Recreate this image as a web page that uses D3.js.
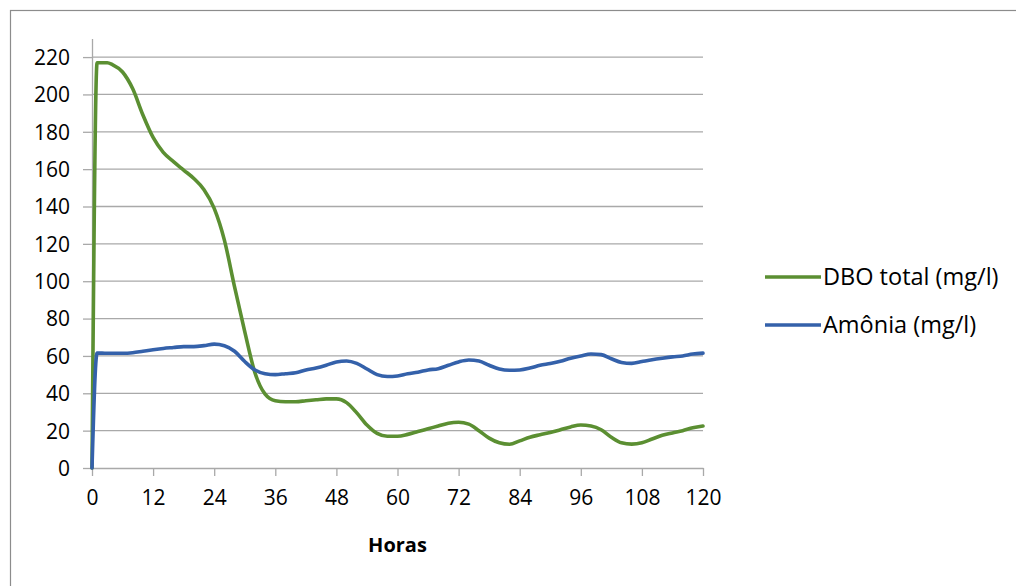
<!DOCTYPE html>
<html>
<head>
<meta charset="utf-8">
<script src="https://cdn.jsdelivr.net/npm/d3@7"></script>
<style>
  body { margin: 0; background: #fff; }
  svg { display: block; }
  text { font-family: "Open Sans", "Noto Sans", sans-serif; }
</style>
</head>
<body>
<svg id="chart" width="1016" height="586"></svg>
<script>
// Sampling times (hours)
const hours = [0, 1, 2, 3, 4, 6, 8, 10, 12, 14, 16, 18, 20, 22, 24, 26, 28, 30, 32, 34, 36, 38, 40,
  42, 44, 46, 48, 50, 52, 54, 56, 58, 60, 62, 64, 66, 68, 70, 72, 74, 76, 78, 80, 82, 84, 86, 88,
  90, 92, 94, 96, 98, 100, 102, 104, 106, 108, 110, 112, 114, 116, 118, 120];

// DBO total (mg/l)
const dbo = [0, 217, 217, 217, 216, 212, 203, 189, 177, 169, 164, 159.5, 155, 149, 139, 122, 97, 73,
  51, 39.5, 36, 35.5, 35.5, 36, 36.5, 37, 37, 35, 29.5, 23, 18.5, 17, 17, 18, 19.5, 21, 22.5, 24,
  24.5, 23.5, 20, 16, 13.5, 12.7, 14.5, 16.5, 17.8, 19, 20.5, 22, 23, 22.5, 20.5, 16.5, 13.5, 12.8,
  13.5, 15.5, 17.5, 18.8, 20, 21.5, 22.5];

// Amônia (mg/l)
const amonia = [0, 61.5, 61.5, 61.4, 61.4, 61.4, 61.7, 62.5, 63.3, 64, 64.5, 65, 65, 65.5, 66.3, 65.5,
  62.5, 57, 52.5, 50.5, 50, 50.5, 51, 52.5, 53.5, 55, 56.8, 57.3, 56, 53, 50, 49, 49.3, 50.5, 51.3,
  52.5, 53.2, 55, 56.8, 57.8, 57.3, 55, 53, 52.3, 52.5, 53.5, 55, 56, 57.2, 58.8, 60, 61, 60.7, 58.5,
  56.5, 56, 57, 58, 58.8, 59.5, 60, 61, 61.5];

const xTicks = [0, 12, 24, 36, 48, 60, 72, 84, 96, 108, 120];
const yTicks = [0, 20, 40, 60, 80, 100, 120, 140, 160, 180, 200, 220];

const seriesNames = ["DBO total (mg/l)", "Amônia (mg/l)"];
const seriesColors = ["#5b8f32", "#3461aa"];
const xTitle = "Horas";

const svg = d3.select("#chart");

// Outer chart frame
svg.append("rect")
  .attr("x", 10.5).attr("y", 10.5)
  .attr("width", 1020).attr("height", 600)
  .attr("fill", "none").attr("stroke", "#8c8c8c").attr("stroke-width", 1.2);

const x = d3.scaleLinear().domain([0, 120]).range([92, 703]);
const y = d3.scaleLinear().domain([0, 230]).range([468, 38.4]);

// Horizontal gridlines
svg.append("g")
  .selectAll("line")
  .data(yTicks.filter(d => d > 0))
  .join("line")
  .attr("x1", x(0)).attr("x2", x(120))
  .attr("y1", d => y(d)).attr("y2", d => y(d))
  .attr("stroke", "#a9a9a9").attr("stroke-width", 1.3);

// Y axis
const yAxis = svg.append("g")
  .attr("transform", `translate(${x(0)},0)`)
  .call(d3.axisLeft(y).tickValues(yTicks).tickSizeInner(9).tickSizeOuter(0).tickPadding(13));
yAxis.select(".domain").attr("stroke", "#a9a9a9").attr("stroke-width", 1.3);
yAxis.selectAll(".tick line").attr("stroke", "#a9a9a9").attr("stroke-width", 1.3);
yAxis.selectAll(".tick text")
  .attr("font-size", 21).attr("fill", "#000").attr("dy", "0.35em")
  .style("font-family", "'Open Sans', sans-serif");

// X axis
const xAxis = svg.append("g")
  .attr("transform", `translate(0,${y(0)})`)
  .call(d3.axisBottom(x).tickValues(xTicks).tickSizeInner(8).tickSizeOuter(0).tickPadding(14));
xAxis.select(".domain").attr("stroke", "#a9a9a9").attr("stroke-width", 1.3);
xAxis.selectAll(".tick line").attr("stroke", "#a9a9a9").attr("stroke-width", 1.3);
xAxis.selectAll(".tick text")
  .attr("font-size", 21).attr("fill", "#000")
  .style("font-family", "'Open Sans', sans-serif");

// X axis title
svg.append("text")
  .attr("x", (x(0) + x(120)) / 2).attr("y", 552)
  .attr("text-anchor", "middle")
  .attr("font-size", 20).attr("font-weight", "bold").attr("fill", "#000")
  .text(xTitle);

// Series lines, smoothed without overshoot
const line = d3.line()
  .x((d, i) => x(hours[i]))
  .y(d => y(d))
  .curve(d3.curveMonotoneX);

[dbo, amonia].forEach((values, k) => {
  svg.append("path")
    .datum(values)
    .attr("d", line)
    .attr("fill", "none")
    .attr("stroke", seriesColors[k])
    .attr("stroke-width", 3.6)
    .attr("stroke-linejoin", "round")
    .attr("stroke-linecap", "round");
});

// Legend
const legend = svg.append("g");
const legendY = [277, 325];
seriesNames.forEach((name, k) => {
  legend.append("line")
    .attr("x1", 765).attr("x2", 821)
    .attr("y1", legendY[k]).attr("y2", legendY[k])
    .attr("stroke", seriesColors[k]).attr("stroke-width", 3.6);
  legend.append("text")
    .attr("x", 823).attr("y", legendY[k]).attr("dy", "0.35em")
    .attr("font-size", 23.5).attr("fill", "#000")
    .text(name);
});
</script>
</body>
</html>
